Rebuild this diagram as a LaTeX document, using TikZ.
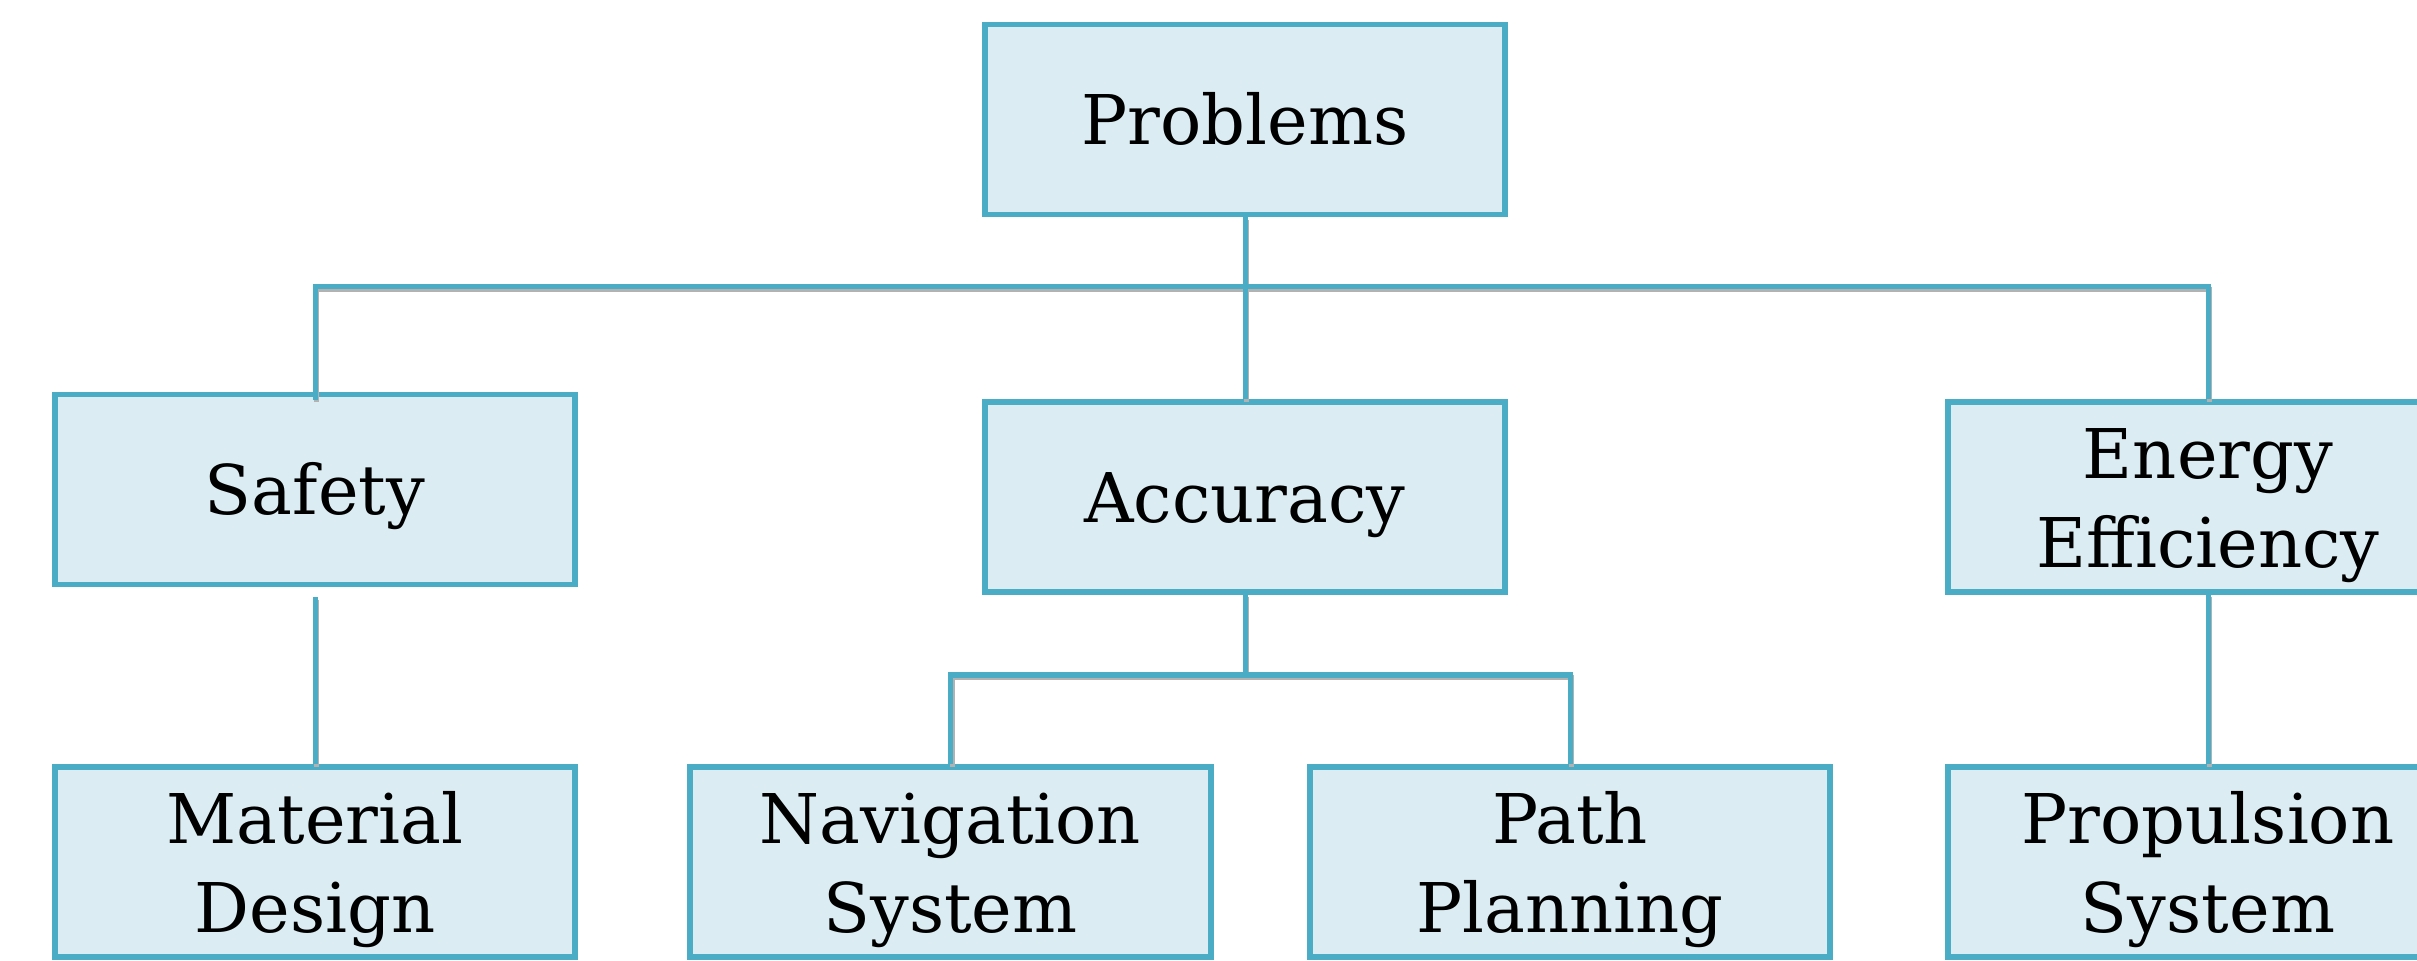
\documentclass[tikz,border=0pt]{standalone}
\usepackage{fontspec}
\setmainfont{DejaVu Serif}
\definecolor{boxline}{RGB}{75,172,198}
\definecolor{boxfill}{RGB}{219,237,243}
\newcommand{\topstrut}{\rule{0pt}{0.67cm}}
\begin{document}
\begin{tikzpicture}[x=0.01cm,y=-0.01cm,
  box/.style={draw=boxline, fill=boxfill, line width=0.058cm, minimum width=5.2cm, minimum height=1.9cm, inner sep=0pt, align=center, font=\fontsize{19.5}{25.2}\selectfont},
  oneline/.style={text height=0.5cm, text depth=0cm},
  conn/.style={draw=boxline, line width=0.05cm},
  shade/.style={draw=black!30, line width=0.05cm}]
\useasboundingbox (0,0) rectangle (2417,961);
\clip (0,0) rectangle (2417,961);
% nodes
\node[box,oneline] (P)  at (1245,119.5) {Problems};
\node[box,oneline] (S)  at (315,489.5) {Safety};
\node[box,oneline] (A)  at (1245,497) {Accuracy};
\node[box] (E)  at (2208,497) {\topstrut Energy\\Efficiency};
\node[box] (M)  at (315,862) {\topstrut Material\\Design};
\node[box] (N)  at (950.5,862) {\topstrut Navigation\\System};
\node[box] (PP) at (1570,862) {\topstrut Path\\Planning};
\node[box] (PS) at (2208,862) {\topstrut Propulsion\\System};
\coordinate (bus) at (1245,287);
\coordinate (sub) at (1245,675);
% shadows of connectors
\begin{scope}[transform canvas={shift={(0.015cm,-0.025cm)}}]
\draw[shade] (P.south) -- (A.north);
\draw[shade] ([yshift=-0.08cm]S.north) -- (S.north |- bus) -- (E.north |- bus) -- (E.north);
\draw[shade] ([yshift=-0.1cm]S.south) -- (M.north);
\draw[shade] (A.south) -- (sub);
\draw[shade] (N.north) -- (N.north |- sub) -- (PP.north |- sub) -- (PP.north);
\draw[shade] (E.south) -- (PS.north);
\end{scope}
% connectors
\draw[conn] (P.south) -- (A.north);
\draw[conn] ([yshift=-0.08cm]S.north) -- (S.north |- bus) -- (E.north |- bus) -- (E.north);
\draw[conn] ([yshift=-0.1cm]S.south) -- (M.north);
\draw[conn] (A.south) -- (sub);
\draw[conn] (N.north) -- (N.north |- sub) -- (PP.north |- sub) -- (PP.north);
\draw[conn] (E.south) -- (PS.north);
\end{tikzpicture}
\end{document}
